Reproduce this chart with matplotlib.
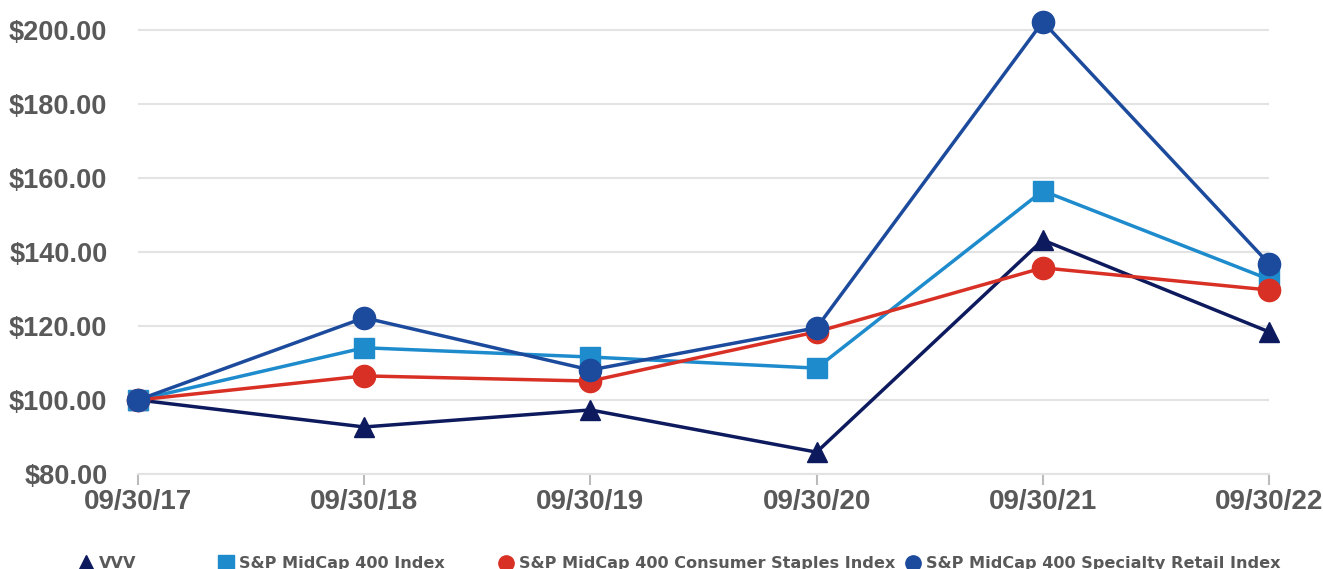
import matplotlib.pyplot as plt
from matplotlib.ticker import FuncFormatter

dates = ['09/30/17', '09/30/18', '09/30/19', '09/30/20', '09/30/21', '09/30/22']
vvv = [100.0, 92.7, 97.3, 85.9, 143.2, 118.4]
midcap = [100.0, 114.1, 111.6, 108.6, 156.5, 132.6]
staples = [100.0, 106.5, 105.1, 118.4, 135.7, 129.7]
specialty = [100.0, 122.2, 108.1, 119.5, 202.2, 136.8]

names = ['VVV', 'S&P MidCap 400 Index', 'S&P MidCap 400 Consumer Staples Index',
         'S&P MidCap 400 Specialty Retail Index']
colors = ['#0d1a5e', '#1e8bcd', '#d93025', '#1c4a9c']
markers = ['^', 's', 'o', 'o']
sizes = [15, 15, 16, 16]

plt.rcParams['font.family'] = ['Liberation Sans', 'DejaVu Sans']
fig = plt.figure(figsize=(13.23, 5.69), dpi=100)
ax = fig.add_axes([0.1043, 0.167, 0.8549, 0.8066])

x = list(range(len(dates)))
lines = []
for i, ys in enumerate([vvv, midcap, staples, specialty]):
    ln, = ax.plot(x, ys, color=colors[i], lw=2.5, marker=markers[i],
                  markersize=sizes[i], clip_on=False, zorder=3 + i)
    lines.append(ln)

ax.set_xlim(0, 5)
ax.set_ylim(80, 204)
ax.set_yticks([80, 100, 120, 140, 160, 180, 200])
ax.yaxis.set_major_formatter(FuncFormatter(lambda v, p: '${:.2f}'.format(v)))
ax.set_xticks(x)
ax.set_xticklabels(dates)
ax.grid(axis='y', color='#e3e3e3', lw=1.5)
ax.set_axisbelow(True)
for s in ['top', 'right', 'left']:
    ax.spines[s].set_visible(False)
ax.spines['bottom'].set_color('#e3e3e3')
ax.spines['bottom'].set_linewidth(1.5)
ax.tick_params(axis='y', length=0, pad=22, labelsize=19.5, labelcolor='#595959')
ax.tick_params(axis='x', length=8, width=1.5, color='#bbbbbb', pad=3,
               labelsize=20, labelcolor='#595959')
for t in ax.get_xticklabels() + ax.get_yticklabels():
    t.set_fontweight('bold')

# legend entries placed one by one, like the original
leg_x = [0.053, 0.159, 0.370, 0.678]
for ln, name, lx in zip(lines, names, leg_x):
    h = plt.Line2D([], [], color=ln.get_color(), marker=ln.get_marker(),
                   markersize=11, lw=0)
    fig.legend(handles=[h], labels=[name], loc='center left',
               bbox_to_anchor=(lx, 0.009), frameon=False, handlelength=1.0,
               handletextpad=0.3, borderpad=0,
               prop={'family': 'DejaVu Sans', 'weight': 'bold', 'size': 11.6},
               labelcolor='#595959')

fig.savefig('out.png', dpi=100)
